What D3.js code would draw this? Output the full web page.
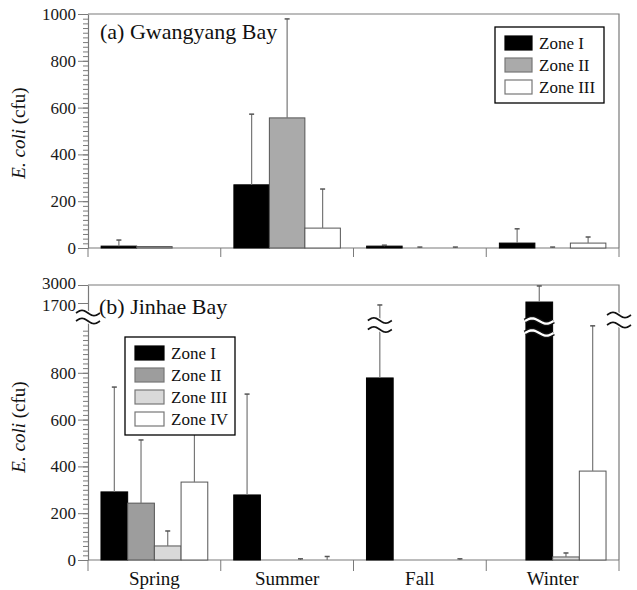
<!DOCTYPE html>
<html>
<head>
<meta charset="utf-8">
<script src="https://cdn.jsdelivr.net/npm/d3@7"></script>
<style>
  body { margin: 0; background: #fff; }
  svg { display: block; font-family: "Liberation Serif", "Times New Roman", serif; }
</style>
</head>
<body>
<div id="chart"></div>
<script>
// categories
const seasons = ["Spring", "Summer", "Fall", "Winter"];
const gwZones = ["Zone I", "Zone II", "Zone III"];
const jhZones = ["Zone I", "Zone II", "Zone III", "Zone IV"];

// (a) Gwangyang Bay : mean and mean+sd, per season
const gwMean1 = [8, 270, 8, 21];
const gwTop1  = [34, 572, 12, 82];
const gwMean2 = [6, 556, 0, 0];
const gwTop2  = [0, 979, 4, 4];
const gwMean3 = [0, 85, 0, 21];
const gwTop3  = [0, 252, 4, 47];

// (b) Jinhae Bay
const jhMean1 = [291, 278, 778, 1770];
const jhTop1  = [739, 709, 1640, 2930];
const jhMean2 = [243, 0, 0, null];
const jhTop2  = [513, 0, 0, null];
const jhMean3 = [60, 0, 0, 13];
const jhTop3  = [124, 5, 0, 30];
const jhMean4 = [333, 0, 0, 380];
const jhTop4  = [538, 15, 5, 1005];
// in the original the winter Zone I bar is drawn in the second slot
const jhWinterZone1Slot = "Zone II";

// y ticks
const gwTicks = [0, 200, 400, 600, 800, 1000];
const jhTicks = [0, 200, 400, 600, 800, 1700, 3000];

const gwColors = ["#000", "#aaaaaa", "#fff"];
const jhColors = ["#000", "#9d9d9d", "#d9d9d9", "#fff"];

const W = 637, H = 590;
const serif = "'Liberation Serif', 'Times New Roman', serif";
const svg = d3.select("#chart").append("svg")
  .attr("width", W).attr("height", H);

const x = d3.scaleBand().domain(seasons).range([88, 619]);

const yA = d3.scaleLinear().domain([0, 1000]).range([248, 14]);
// broken axis : 0-1000 below the break, 1700-3000 above it
const yB = d3.scaleLinear().domain([0, 1000, 1700, 3000]).range([560, 326, 303, 285]);

function buildRows(means, tops, zones, slotFix) {
  const rows = [];
  zones.forEach((z, i) => {
    seasons.forEach((s, j) => {
      if (means[i][j] == null) return;
      let slot = z;
      if (slotFix && slotFix[s] && slotFix[s][z]) slot = slotFix[s][z];
      rows.push({ season: s, zone: z, slot: slot, value: means[i][j], top: tops[i][j], ci: i });
    });
  });
  return rows;
}

const gwRows = buildRows([gwMean1, gwMean2, gwMean3], [gwTop1, gwTop2, gwTop3], gwZones);
const jhRows = buildRows([jhMean1, jhMean2, jhMean3, jhMean4], [jhTop1, jhTop2, jhTop3, jhTop4], jhZones,
  { Winter: { "Zone I": jhWinterZone1Slot } });

function wavePts(cx, cy, w) {
  const amp = 2.6;
  return d3.range(0, 21).map(t => [cx - w / 2 + w * t / 20, cy - amp * Math.sin(2 * Math.PI * t / 20)]);
}

function breakMark(g, cx, cy, w, gap, onBar) {
  const a = wavePts(cx, cy - gap / 2, w);
  const b = wavePts(cx, cy + gap / 2, w);
  const line = d3.line();
  if (onBar) {
    [a, b].forEach(p => {
      g.append("path").attr("d", line(p)).attr("fill", "none").attr("stroke", "#111").attr("stroke-width", 5);
      g.append("path").attr("d", line(p)).attr("fill", "none").attr("stroke", "#fff").attr("stroke-width", 2.4);
    });
  } else {
    g.append("path").attr("d", line(a.concat(b.slice().reverse())) + "Z").attr("fill", "#fff");
    [a, b].forEach(p => {
      g.append("path").attr("d", line(p)).attr("fill", "none").attr("stroke", "#fff").attr("stroke-width", 4);
      g.append("path").attr("d", line(p)).attr("fill", "none").attr("stroke", "#111").attr("stroke-width", 1.7);
    });
  }
}

function panel(opt) {
  const g = svg.append("g");
  const y = opt.y;
  const y0 = y.range()[0], yTop = y.range()[y.range().length - 1];
  const xz = d3.scaleBand().domain(opt.zones).range([0, x.bandwidth()]).paddingOuter(opt.outer);

  // frame (top and right)
  g.append("path")
    .attr("d", `M88,${yTop}H619V${y0}`)
    .attr("fill", "none").attr("stroke", "#7a7a7a").attr("stroke-width", 1.2);

  // y axis : minor ticks, then major
  g.append("g").attr("transform", "translate(88,0)")
    .call(d3.axisLeft(y).tickValues(opt.minor).tickSize(5).tickFormat(""))
    .call(a => a.select(".domain").remove())
    .selectAll("line").attr("stroke", "#7a7a7a");
  const ya = g.append("g").attr("transform", "translate(88,0)")
    .call(d3.axisLeft(y).tickValues(opt.ticks).tickSize(10).tickPadding(2)
      .tickSizeOuter(0).tickFormat(d3.format("d")));
  ya.select(".domain").attr("stroke", "#7a7a7a").attr("stroke-width", 1.2);
  ya.selectAll(".tick line").attr("stroke", "#7a7a7a");
  ya.selectAll(".tick text").attr("font-size", 17).attr("fill", "#1a1a1a")
    .style("font-family", serif)
    .attr("dy", d => d === 3000 ? "0.2em" : d === 1700 ? "0.42em" : "0.32em");

  // x axis line and boundary ticks
  g.append("line").attr("x1", 88).attr("x2", 619).attr("y1", y0).attr("y2", y0)
    .attr("stroke", "#7a7a7a").attr("stroke-width", 1.2);
  const bounds = seasons.map(s => x(s)).concat([x.range()[1]]);
  g.selectAll(".xt").data(bounds).join("line")
    .attr("x1", d => d).attr("x2", d => d).attr("y1", y0).attr("y2", y0 + opt.xTick)
    .attr("stroke", "#7a7a7a");

  // bars
  g.selectAll(".bar").data(opt.rows.filter(d => d.value > 0)).join("rect")
    .attr("x", d => x(d.season) + xz(d.slot))
    .attr("width", xz.bandwidth())
    .attr("y", d => y(d.value))
    .attr("height", d => y(0) - y(d.value))
    .attr("fill", d => opt.colors[d.ci])
    .attr("stroke", d => d.ci === 0 ? "#000" : "#555")
    .attr("stroke-width", 1);

  // error bars (upper only)
  const eb = opt.rows.filter(d => d.top > d.value);
  const cx = d => x(d.season) + xz(d.slot) + xz.bandwidth() / 2;
  g.selectAll(".eb").data(eb).join("line")
    .attr("x1", cx).attr("x2", cx)
    .attr("y1", d => y(d.value)).attr("y2", d => y(d.top))
    .attr("stroke", "#777").attr("stroke-width", 1.2);
  g.selectAll(".cap").data(eb).join("line")
    .attr("x1", d => cx(d) - 2.5).attr("x2", d => cx(d) + 2.5)
    .attr("y1", d => y(d.top)).attr("y2", d => y(d.top))
    .attr("stroke", "#555").attr("stroke-width", 1.5);

  // title
  g.append("text").attr("x", opt.titleX).attr("y", opt.titleY)
    .attr("font-size", 22).attr("fill", "#111").text(opt.title);

  // y label
  const yl = g.append("text")
    .attr("transform", `translate(25,${opt.labelY}) rotate(-90)`)
    .attr("text-anchor", "middle").attr("font-size", 19).attr("fill", "#111");
  yl.append("tspan").attr("font-style", "italic").text("E. coli");
  yl.append("tspan").text(" (cfu)");

  // legend
  const lg = g.append("g").attr("transform", `translate(${opt.legend[0]},${opt.legend[1]})`);
  lg.append("rect").attr("width", opt.legend[2]).attr("height", 10 + opt.zones.length * 22)
    .attr("fill", "#fff").attr("stroke", "#000").attr("stroke-width", 1.3);
  opt.zones.forEach((z, i) => {
    lg.append("rect").attr("x", 10).attr("y", 9 + i * 22).attr("width", opt.swatch).attr("height", 14)
      .attr("fill", opt.colors[i]).attr("stroke", i === 0 ? "#000" : "#777").attr("stroke-width", 1.2);
    lg.append("text").attr("x", opt.swatch + 17).attr("y", 22 + i * 22)
      .attr("font-size", 17).attr("fill", "#111").text(z);
  });
  return { g, xz };
}

panel({
  y: yA, zones: gwZones, rows: gwRows, colors: gwColors, outer: 0.37,
  ticks: gwTicks, minor: d3.range(0, 1001, 20), xTick: 9,
  title: "(a) Gwangyang Bay", titleX: 100, titleY: 39, labelY: 133,
  legend: [495, 27, 109], swatch: 27
});

const pb = panel({
  y: yB, zones: jhZones, rows: jhRows, colors: jhColors, outer: 0.486,
  ticks: jhTicks, minor: d3.range(0, 1000, 20), xTick: 11,
  title: "(b) Jinhae Bay", titleX: 99, titleY: 314, labelY: 427,
  legend: [125, 337, 110], swatch: 29
});

// scale-break marks
const bk = svg.append("g");
breakMark(bk, 88, yB(1000) - 9, 24, 8, false);
breakMark(bk, 619, yB(1000) - 6, 24, 10, false);
const fallI = jhRows.find(d => d.season === "Fall" && d.zone === "Zone I");
breakMark(bk, x("Fall") + pb.xz(fallI.slot) + pb.xz.bandwidth() / 2, yB(1000) - 1, 24, 9, false);
const winI = jhRows.find(d => d.season === "Winter" && d.zone === "Zone I");
breakMark(bk, x("Winter") + pb.xz(winI.slot) + pb.xz.bandwidth() / 2, yB(1000) + 1, pb.xz.bandwidth() + 2, 12, true);

// season labels
svg.selectAll(".season").data(seasons).join("text")
  .attr("x", d => x(d) + x.bandwidth() / 2).attr("y", 585)
  .attr("text-anchor", "middle").attr("font-size", 19).attr("fill", "#111")
  .text(d => d);
</script>
</body>
</html>
